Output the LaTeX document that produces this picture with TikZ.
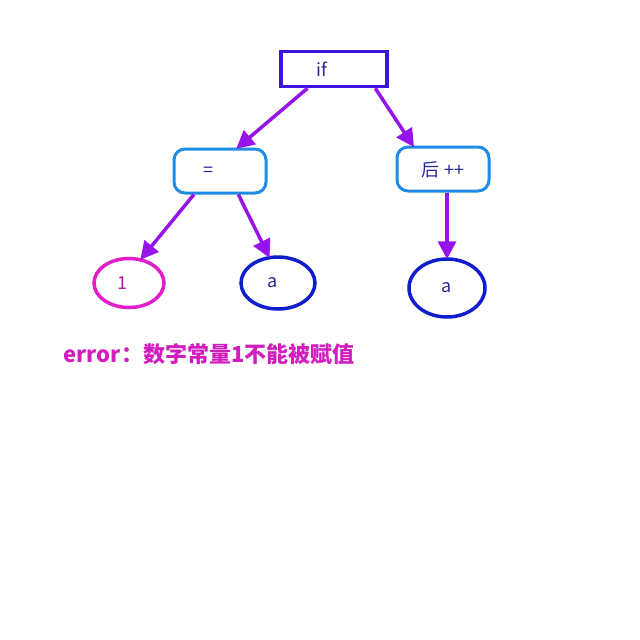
\documentclass[tikz,border=0pt]{standalone}
\usepackage{fontspec}
\setmainfont{Noto Sans CJK SC}
\usetikzlibrary{arrows.meta,shapes.geometric}
\definecolor{arrowc}{RGB}{150,20,235}
\definecolor{ifc}{RGB}{60,20,225}
\definecolor{boxc}{RGB}{30,140,230}
\definecolor{onec}{RGB}{225,30,200}
\definecolor{ac}{RGB}{15,30,205}
\definecolor{errc}{RGB}{210,30,190}
\definecolor{txtc}{RGB}{40,40,150}
\begin{document}
\begin{tikzpicture}[x=1pt,y=-1pt,
  lbl/.style={font=\fontsize{18}{20}\selectfont, text=txtc},
  ifbox/.style={draw=ifc, line width=3.5pt, minimum width=106pt, minimum height=35pt, inner sep=0pt},
  rbox/.style={draw=boxc, line width=3pt, rounded corners=11pt, minimum width=92pt, minimum height=44pt, inner sep=0pt},
  ell/.style={ellipse, line width=3.5pt, inner sep=0pt},
  arr/.style={draw=arrowc, line width=3.5pt, -{Triangle[length=18pt,width=18pt]}, shorten >=-2pt}
]
\fill[white] (0,0) rectangle (640,640);
\useasboundingbox (0,0) rectangle (640,640);

\node[ifbox, label={[lbl, xshift=-12pt]center:if}] (if) at (334,69) {};
\node[rbox, label={[lbl, xshift=-12pt, yshift=-1pt]center:=}] (eq) at (220,171) {};
\node[rbox, label={[lbl, yshift=-1pt]center:后 ++}] (post) at (443,169) {};
\node[ell, draw=onec, minimum width=70pt, minimum height=49pt, label={[lbl, text=onec!80!black, xshift=-7pt]center:1}] (one) at (129,283) {};
\node[ell, draw=ac, minimum width=74pt, minimum height=52pt, label={[lbl, xshift=-5pt]center:a}] (a1) at (278,283) {};
\node[ell, draw=ac, minimum width=76pt, minimum height=58pt, label={[lbl]center:a}] (a2) at (447,288) {};

\node[anchor=west, text=errc, font=\fontsize{22}{24}\selectfont\bfseries] (err) at (60,354) {error：数字常量1不能被赋值};

\draw[arr] (if.216) -- (eq.53);
\draw[arr] (if.-25) -- (post.142);
\draw[arr] (eq.222) -- (one.63);
\draw[arr] (eq.-52) -- (a1.109);
\draw[arr] (post.south -| a2.north) -- (a2.north);
\end{tikzpicture}
\end{document}
